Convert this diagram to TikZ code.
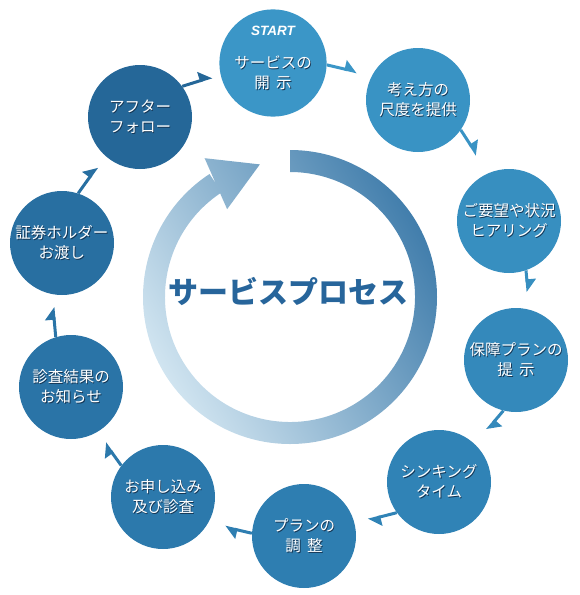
\documentclass[tikz,border=0pt]{standalone}
\usepackage{fontspec}
\newfontfamily\jp{Noto Sans CJK JP}
\newfontfamily\lsans{Liberation Sans}
\usetikzlibrary{arrows.meta,calc}
\definecolor{k1}{RGB}{59,150,199}
\definecolor{k2}{RGB}{57,147,196}
\definecolor{k3}{RGB}{55,143,192}
\definecolor{k4}{RGB}{52,137,187}
\definecolor{k5}{RGB}{48,131,182}
\definecolor{k6}{RGB}{46,126,177}
\definecolor{k7}{RGB}{44,121,172}
\definecolor{k8}{RGB}{42,116,167}
\definecolor{k9}{RGB}{40,111,161}
\definecolor{k10}{RGB}{37,103,152}
\definecolor{ringdark}{RGB}{66,126,172}
\definecolor{ringlight}{RGB}{208,228,240}
\definecolor{titleblue}{RGB}{39,101,155}
\definecolor{shadowc}{RGB}{22,55,85}
\newcommand\sh[1]{\makebox[0pt][l]{\kern0.9pt\raisebox{-0.9pt}{\textcolor{shadowc}{#1}}}#1}
\begin{document}
\begin{tikzpicture}[x=1pt,y=-1pt,
  circ/.style={circle, minimum size=104pt, inner sep=0pt, fill=#1, text=white,
    font=\jp\fontsize{15.5}{20}\selectfont, align=center},
  conn/.style={draw=#1, line width=3pt, -{Triangle[harpoon,length=11pt,width=18pt]}},
]
\useasboundingbox (0,0) rectangle (580,595);
% central ring with arrow head
\begin{scope}[shift={(290,297)}, y=1pt]
\shade[top color=ringdark, bottom color=ringlight, shading angle=-60]
  (90:147) arc[start angle=90, end angle=-236.8, radius=147]
  -- (-236.8:125) arc[start angle=-236.8, end angle=90, radius=125] -- cycle
  (121.6:163) -- (102.8:136) -- (125.6:108) -- cycle;
\end{scope}
\node[font=\jp\bfseries\fontsize{30}{36}\selectfont, text=titleblue] (title) at (288,291) {サービスプロセス};
% process circles
\node[circ=k1] (c1) at (273,63) {{\lsans\bfseries\itshape\fontsize{13.5}{15}\selectfont START}\\[13pt]\sh{サービスの}\\\sh{開\hspace{0.4em}示}\rule[-12pt]{0pt}{1pt}};
\node[circ=k2] (c2) at (418,100) {\sh{考え方の}\\\sh{尺度を提供}};
\node[circ=k3] (c3) at (509,221) {\sh{ご要望や状況}\\\sh{ヒアリング}};
\node[circ=k4] (c4) at (516,360) {\sh{保障プランの}\\\sh{提\hspace{0.4em}示}};
\node[circ=k5] (c5) at (439,482) {\sh{シンキング}\\\sh{タイム}};
\node[circ=k6] (c6) at (304,536) {\sh{プランの}\\\sh{調\hspace{0.4em}整}};
\node[circ=k7] (c7) at (163,497) {\sh{お申し込み}\\\sh{及び診査}};
\node[circ=k8] (c8) at (71,387) {\sh{診査結果の}\\\sh{お知らせ}};
\node[circ=k9] (c9) at (62,243) {\sh{証券ホルダー}\\\sh{お渡し}};
\node[circ=k10] (c10) at (140,117) {\sh{アフター}\\\sh{フォロー}};
% connector tips
\coordinate (t1) at (357,72);
\coordinate (t2) at (477,155);
\coordinate (t3) at (528,292);
\coordinate (t4) at (487,430);
\coordinate (t5) at (368,520);
\coordinate (t6) at (225,527);
\coordinate (t7) at (105,443);
\coordinate (t8) at (53,307);
\coordinate (t9) at (97,167);
\coordinate (t10) at (212,77);
\draw[conn=k1] (c1.-2) -- (t1);
\draw[conn=k2] (c2.-35.5) -- (t2);
\draw[conn=k3] (c3.-71.6) -- (t3);
\draw[conn=k4] (c4.-104.5) -- (t4);
\draw[conn=k5] (c5.216.4) -- (t5);
\draw[conn=k6] (c6.177.8) -- (t6);
\draw[conn=k7] (c7.143.8) -- (t7);
\draw[conn=k8] (c8.107.1) -- (t8);
\draw[conn=k9] (c9.72.9) -- (t9);
\draw[conn=k10] (c10.36.7) -- (t10);
\end{tikzpicture}
\end{document}
